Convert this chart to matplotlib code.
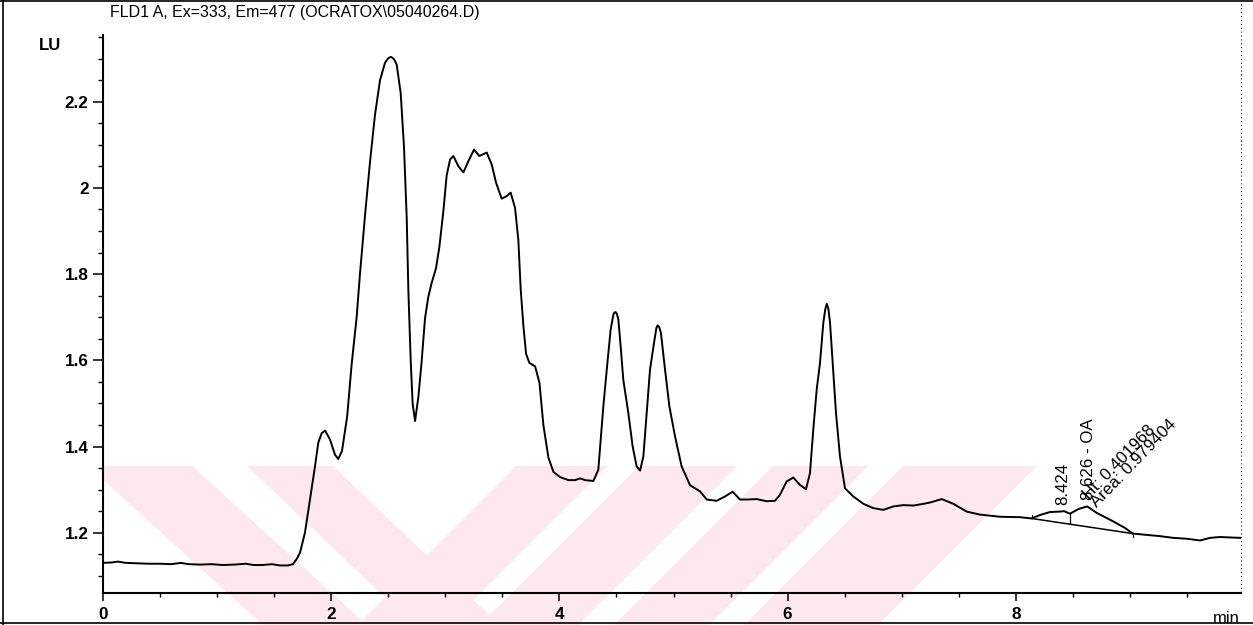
import matplotlib
matplotlib.use("Agg")
import numpy as np
import matplotlib.pyplot as plt
from matplotlib.patches import Polygon, Rectangle
from matplotlib.lines import Line2D
from matplotlib.ticker import MultipleLocator, FuncFormatter

# FLD1 A trace: retention time (min) and fluorescence signal (LU)
time_min = [
    0.00, 0.08, 0.13, 0.20, 0.30, 0.40, 0.50, 0.60, 0.68, 0.75, 0.85, 0.95,
    1.05, 1.15, 1.25, 1.32, 1.40, 1.48, 1.55, 1.62, 1.665, 1.70, 1.727, 1.77,
    1.814, 1.858, 1.887, 1.917, 1.946, 1.99, 2.033, 2.062, 2.095, 2.14, 2.179,
    2.223, 2.252, 2.296, 2.340, 2.384, 2.428, 2.471, 2.50, 2.524, 2.55, 2.574,
    2.609, 2.638, 2.662, 2.676, 2.697, 2.714, 2.735, 2.764, 2.793, 2.822,
    2.851, 2.881, 2.918, 2.948, 2.983, 3.012, 3.042, 3.071, 3.115, 3.159,
    3.202, 3.252, 3.298, 3.363, 3.407, 3.445, 3.494, 3.538, 3.573, 3.611,
    3.640, 3.661, 3.684, 3.708, 3.737, 3.787, 3.825, 3.860, 3.904, 3.948,
    4.006, 4.079, 4.138, 4.181, 4.225, 4.298, 4.341, 4.362, 4.385, 4.415,
    4.449, 4.473, 4.483, 4.493, 4.505, 4.517, 4.537, 4.560, 4.604, 4.642,
    4.677, 4.707, 4.736, 4.765, 4.794, 4.829, 4.850, 4.861, 4.875, 4.890,
    4.926, 4.964, 5.013, 5.071, 5.145, 5.232, 5.291, 5.378, 5.451, 5.518,
    5.583, 5.641, 5.729, 5.816, 5.889, 5.933, 5.992, 6.050, 6.108, 6.161,
    6.196, 6.225, 6.255, 6.284, 6.313, 6.330, 6.343, 6.357, 6.372, 6.395,
    6.424, 6.459, 6.503, 6.576, 6.664, 6.752, 6.839, 6.927, 7.015, 7.103,
    7.191, 7.248, 7.351, 7.453, 7.569, 7.686, 7.862, 8.037, 8.139, 8.212,
    8.300, 8.387, 8.424, 8.475, 8.549, 8.626, 8.709, 8.855, 8.957, 9.025,
    9.148, 9.264, 9.381, 9.498, 9.615, 9.702, 9.790, 9.966,
]
signal_lu = [
    1.130, 1.131, 1.133, 1.130, 1.129, 1.128, 1.128, 1.127, 1.130, 1.127, 1.126, 1.127,
    1.125, 1.126, 1.128, 1.125, 1.125, 1.127, 1.124, 1.124, 1.127, 1.140, 1.154, 1.200,
    1.277, 1.354, 1.409, 1.431, 1.437, 1.416, 1.381, 1.371, 1.390, 1.470, 1.590,
    1.700, 1.800, 1.935, 2.060, 2.170, 2.250, 2.290, 2.301, 2.304, 2.299, 2.286,
    2.220, 2.095, 1.929, 1.764, 1.598, 1.499, 1.459, 1.515, 1.598, 1.697,
    1.747, 1.780, 1.813, 1.863, 1.946, 2.029, 2.066, 2.074, 2.050, 2.036,
    2.062, 2.089, 2.074, 2.082, 2.054, 2.012, 1.975, 1.981, 1.989, 1.954,
    1.880, 1.764, 1.681, 1.615, 1.594, 1.586, 1.548, 1.449, 1.374, 1.341,
    1.329, 1.322, 1.322, 1.326, 1.322, 1.320, 1.346, 1.416, 1.493, 1.578,
    1.671, 1.706, 1.711, 1.712, 1.707, 1.694, 1.632, 1.555, 1.478, 1.400,
    1.354, 1.344, 1.377, 1.478, 1.578, 1.640, 1.675, 1.681, 1.677, 1.663,
    1.578, 1.493, 1.424, 1.354, 1.310, 1.296, 1.277, 1.274, 1.284, 1.295,
    1.277, 1.277, 1.278, 1.273, 1.274, 1.288, 1.319, 1.328, 1.311, 1.301,
    1.338, 1.439, 1.532, 1.594, 1.687, 1.718, 1.731, 1.720, 1.687, 1.594,
    1.478, 1.377, 1.303, 1.284, 1.267, 1.257, 1.253, 1.261, 1.264, 1.263,
    1.267, 1.270, 1.278, 1.267, 1.249, 1.242, 1.237, 1.236, 1.233, 1.241,
    1.248, 1.249, 1.250, 1.244, 1.255, 1.261, 1.246, 1.226, 1.211, 1.198,
    1.195, 1.192, 1.188, 1.186, 1.182, 1.188, 1.190, 1.188,
]

# Integration of the OA peak: baseline ends and the split between the two peaks
oa_base_t = [8.139, 9.025]
oa_base_y = [1.233, 1.198]
split_t = 8.475

# Peak annotations
peak_t = [8.424, 8.626]
peak_y = [1.250, 1.261]
peak_rt_text = ["8.424", "8.626 - OA"]
oa_height_text = "Ht: 0.401968"
oa_area_text = "Area: 0.979404"

title_text = "FLD1 A, Ex=333, Em=477 (OCRATOX\\05040264.D)"
x_major = [0, 2, 4, 6, 8]
y_major = [1.2, 1.4, 1.6, 1.8, 2.0, 2.2]

W, H = 1253, 625
plt.rcParams["font.family"] = ["Liberation Sans", "DejaVu Sans"]

fig = plt.figure(figsize=(W / 100, H / 100), dpi=100)
fig.patch.set_facecolor("white")


def fxy(px, py):
    return (px / W, 1 - py / H)


# faint pink logo stripes behind the lower part of the chart
wm_top, wm_bot = 466, 628
wm_h = wm_bot - wm_top
stripes = [("back", 88, 192, 1.1), ("back", 247, 333, 1.05),
           ("fwd", 516, 608, 1.0), ("fwd", 639, 737, 1.0),
           ("fwd", 773, 868, 1.0), ("fwd", 903, 1037, 1.0)]
clip = Rectangle(fxy(103, 625), (W - 103) / W, (625 - wm_top) / H,
                 transform=fig.transFigure, facecolor="none", edgecolor="none")
for kind, a, b, k in stripes:
    s = k * wm_h if kind == "back" else -k * wm_h
    pts = [fxy(a, wm_top), fxy(b, wm_top), fxy(b + s, wm_bot), fxy(a + s, wm_bot)]
    poly = Polygon(pts, closed=True, transform=fig.transFigure,
                   facecolor="#fce8ed", edgecolor="none", zorder=0)
    fig.add_artist(poly)
    poly.set_clip_path(clip)

ax = fig.add_axes([103 / W, 1 - 593 / H, (1241 - 103) / W, (593 - 35) / H])
ax.set_zorder(2)
ax.patch.set_visible(False)

ax.plot(time_min, signal_lu, color="black", lw=1.4, solid_joinstyle="round")

# integration baseline, split line and end marks
ax.plot(oa_base_t, oa_base_y, color="black", lw=1.1)
split_base = float(np.interp(split_t, oa_base_t, oa_base_y))
split_top = float(np.interp(split_t, time_min, signal_lu))
ax.plot([split_t, split_t], [split_base, split_top], color="black", lw=0.9)
ax.plot([oa_base_t[0]] * 2, [oa_base_y[0], oa_base_y[0] + 0.008], color="black", lw=0.8)
ax.plot([oa_base_t[1]] * 2, [oa_base_y[1], oa_base_y[1] - 0.008], color="black", lw=0.8)

ann_kw = dict(textcoords="offset pixels", rotation_mode="anchor", ha="left",
              va="center", fontsize=12.2, color="black")
ax.annotate(peak_rt_text[0], xy=(peak_t[0], peak_y[0]), xytext=(-1, 6), rotation=90, **ann_kw)
ax.annotate(peak_rt_text[1], xy=(peak_t[1], peak_y[1]), xytext=(1, 6), rotation=90, **ann_kw)
ax.annotate(oa_height_text, xy=(peak_t[1], peak_y[1]), xytext=(-1, 10), rotation=46, **ann_kw)
ax.annotate(oa_area_text, xy=(peak_t[1], peak_y[1]), xytext=(7, 2), rotation=46, **ann_kw)

ax.set_xlim(0, (1241 - 103) / 114.1)
ax.set_ylim(1.2 - (593 - 532.7) / 431, 1.2 + (532.7 - 35) / 431)

for side in ("top", "right"):
    ax.spines[side].set_visible(False)
for side in ("left", "bottom"):
    ax.spines[side].set_linewidth(1.5)

ax.set_xticks(x_major)
ax.xaxis.set_minor_locator(MultipleLocator(0.5))
ax.set_yticks(y_major)
ax.yaxis.set_minor_locator(MultipleLocator(0.05))
ax.xaxis.set_major_formatter(FuncFormatter(lambda v, _: f"{v:g}"))
ax.yaxis.set_major_formatter(FuncFormatter(lambda v, _: f"{v:g}"))
ax.tick_params(axis="y", which="major", direction="out", length=7, width=1.1,
               pad=3.5, labelsize=12.3)
ax.tick_params(axis="y", which="minor", direction="out", length=3.5, width=1.0)
ax.tick_params(axis="x", which="major", direction="out", length=5.5, width=1.1,
               pad=4.5, labelsize=12.3)
ax.tick_params(axis="x", which="minor", direction="out", length=3, width=1.0)
for lab in ax.get_xticklabels() + ax.get_yticklabels():
    lab.set_fontweight("bold")

# header, unit labels and page frame
fig.text(*fxy(110, 17.5), title_text, ha="left", va="baseline", fontsize=11.5)
fig.text(*fxy(50, 46), "LU", ha="center", va="center", fontsize=12, fontweight="bold")
fig.text(*fxy(1240, 611), "min", ha="right", va="top", fontsize=12)

fig.add_artist(Line2D([3 / W, 3 / W], [0, 1], transform=fig.transFigure, color="black", lw=1.2))
fig.add_artist(Line2D([0, 1], [1 - 1 / H] * 2, transform=fig.transFigure, color="black", lw=1.2))
fig.add_artist(Line2D([0, 1], [1 - 622.5 / H] * 2, transform=fig.transFigure, color="black", lw=1.2))
fig.add_artist(Line2D([1241 / W] * 2, [1, 1 - 593 / H], transform=fig.transFigure,
                      color="black", lw=0.8, ls=(0, (1, 2.5))))

fig.savefig("out.png", dpi=100, facecolor="white")
